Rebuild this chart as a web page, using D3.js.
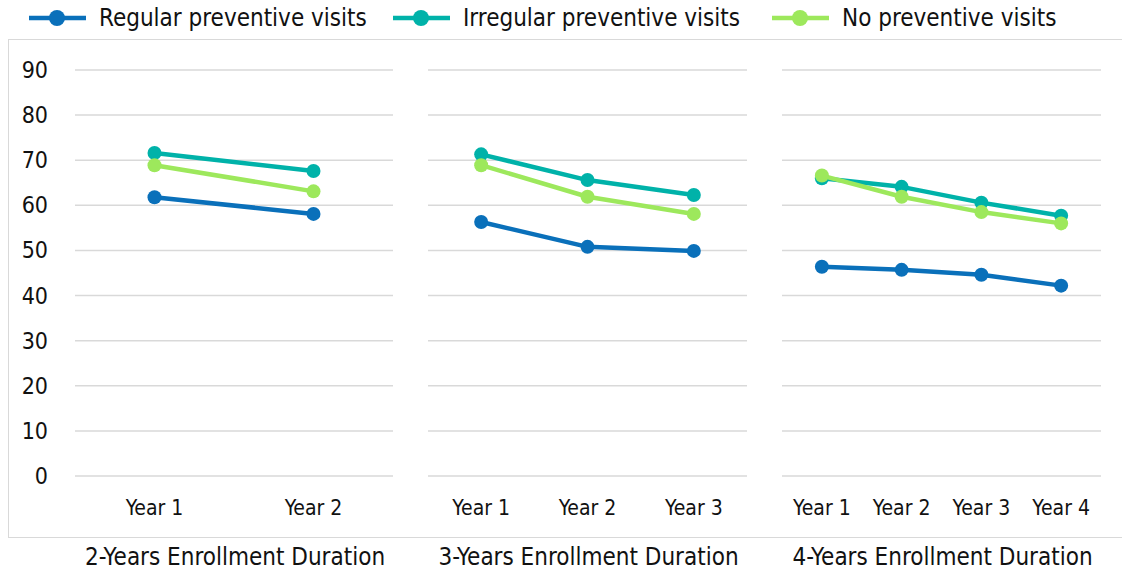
<!DOCTYPE html>
<html lang="en">
<head>
<meta charset="UTF-8">
<title>Preventive visits by enrollment duration</title>
<style>
  body { margin: 0; background: #fff; }
  svg text { font-family: "Liberation Sans Narrow", "DejaVu Sans Condensed", sans-serif; fill: #111; }
</style>
</head>
<body>
<div id="chart"></div>
<script src="https://cdnjs.cloudflare.com/ajax/libs/d3/7.8.5/d3.min.js"></script>
<script>
// data
const seriesNames = ["Regular preventive visits", "Irregular preventive visits", "No preventive visits"];
const panelNames = ["2-Years Enrollment Duration", "3-Years Enrollment Duration", "4-Years Enrollment Duration"];
const panelYears = [
  ["Year 1", "Year 2"],
  ["Year 1", "Year 2", "Year 3"],
  ["Year 1", "Year 2", "Year 3", "Year 4"]
];
const regular = [[61.8, 58.1], [56.3, 50.8, 49.9], [46.4, 45.7, 44.6, 42.2]];
const irregular = [[71.6, 67.6], [71.3, 65.6, 62.3], [66.0, 64.1, 60.6, 57.7]];
const noVisits = [[68.9, 63.1], [68.9, 61.9, 58.1], [66.6, 61.9, 58.5, 56.0]];
const yTicks = [0, 10, 20, 30, 40, 50, 60, 70, 80, 90];

const colors = ["#0a70ba", "#00b2a9", "#9de85c"];
const seriesData = [regular, irregular, noVisits];

const W = 1122, H = 571;
const svg = d3.select("#chart").append("svg").attr("width", W).attr("height", H);

// outer frame
svg.append("rect")
  .attr("x", 8.5).attr("y", 39.5).attr("width", 1130).attr("height", 498)
  .attr("fill", "none").attr("stroke", "#d9d9d9").attr("stroke-width", 1);

const y = d3.scaleLinear().domain([0, 90]).range([476, 70]);

// y axis labels
svg.append("g").selectAll("text").data(yTicks).join("text")
  .attr("x", 48).attr("y", d => y(d)).attr("dy", "0.35em")
  .attr("text-anchor", "end").attr("font-size", 23)
  .text(d => d);

const panelX = [[75, 393], [428, 747], [782, 1101]];

panelX.forEach((range, p) => {
  const x = d3.scaleBand().domain(panelYears[p]).range(range);
  const g = svg.append("g");

  g.selectAll("line.grid").data(yTicks).join("line")
    .attr("class", "grid")
    .attr("x1", range[0]).attr("x2", range[1])
    .attr("y1", d => y(d)).attr("y2", d => y(d))
    .attr("stroke", "#d9d9d9").attr("stroke-width", 1.5);

  g.selectAll("text.tick").data(panelYears[p]).join("text")
    .attr("class", "tick")
    .attr("x", d => x(d) + x.bandwidth() / 2).attr("y", 508).attr("dy", "0.35em")
    .attr("text-anchor", "middle").attr("font-size", 21)
    .text(d => d);

  g.append("text")
    .attr("x", (range[0] + range[1]) / 2 + 1).attr("y", 557).attr("dy", "0.35em")
    .attr("text-anchor", "middle").attr("font-size", 24)
    .text(panelNames[p]);

  const line = d3.line()
    .x((d, i) => x(panelYears[p][i]) + x.bandwidth() / 2)
    .y(d => y(d));

  seriesData.forEach((s, k) => {
    const vals = s[p];
    g.append("path").datum(vals)
      .attr("d", line).attr("fill", "none")
      .attr("stroke", colors[k]).attr("stroke-width", 4.5)
      .attr("stroke-linejoin", "round");
    g.selectAll("circle.s" + k).data(vals).join("circle")
      .attr("class", "s" + k)
      .attr("cx", (d, i) => x(panelYears[p][i]) + x.bandwidth() / 2)
      .attr("cy", d => y(d)).attr("r", 7)
      .attr("fill", colors[k]);
  });
});

// legend
const legendX = [57, 421, 800];
const legend = svg.append("g");
seriesNames.forEach((name, k) => {
  const lg = legend.append("g").attr("transform", `translate(${legendX[k]},18)`);
  lg.append("line").attr("x1", -28).attr("x2", 29).attr("y1", 0).attr("y2", 0)
    .attr("stroke", colors[k]).attr("stroke-width", 4.5);
  lg.append("circle").attr("r", 8).attr("fill", colors[k]);
  lg.append("text").attr("x", 42).attr("y", 0).attr("dy", "0.35em")
    .attr("font-size", 24).text(name);
});
</script>
</body>
</html>
